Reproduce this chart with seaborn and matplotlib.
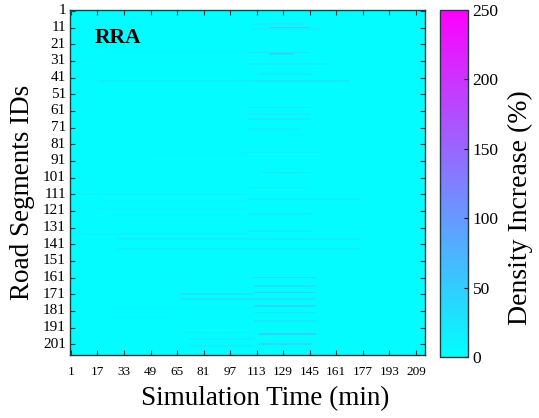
import numpy as np
import pandas as pd
import matplotlib
matplotlib.use('Agg')
import matplotlib.pyplot as plt
import seaborn as sns

# ==========================================
# Data
# ==========================================
n_segments = 207
n_minutes = 214
base_level = 3  # background density increase (%)

# streaks of higher density increase: segment row, first / last minute, level (%)
streak_row = [9, 11, 12, 26, 26, 27, 32, 33, 38, 39, 43, 43, 59, 59, 63, 65, 66, 72,
              86, 86, 98, 98, 107, 111, 114, 115, 120, 123, 133, 135, 138, 144,
              161, 161, 166, 170, 171, 170, 174, 178, 179, 182, 185, 187, 194,
              195, 198, 201, 202]
streak_first = [112, 121, 110, 20, 108, 121, 9, 108, 30, 115, 18, 108, 49, 108, 108, 61, 108, 108,
                49, 108, 31, 115, 108, 6, 108, 20, 18, 108, 108, 3, 30, 30,
                61, 112, 112, 3, 67, 112, 67, 112, 24, 112, 24, 112, 67,
                115, 73, 115, 73]
streak_last = [139, 144, 150, 107, 144, 135, 107, 157, 100, 145, 107, 169, 107, 145, 145, 107, 145, 139,
               107, 151, 107, 145, 145, 107, 175, 107, 107, 145, 145, 107, 175, 175,
               111, 148, 148, 66, 111, 148, 148, 148, 111, 148, 60, 148, 111,
               148, 111, 145, 111]
streak_level = [18, 48, 14, 12, 28, 38, 11, 17, 10, 17, 15, 20, 10, 19, 17, 10, 19, 12,
                10, 17, 11, 20, 15, 10, 15, 10, 11, 16, 15, 10, 15, 16,
                11, 36, 28, 11, 22, 45, 25, 38, 12, 25, 12, 22, 17,
                45, 15, 38, 15]

cbar_ticks = [0, 50, 100, 150, 200, 250]

# build the matrix
density = np.full((n_segments, n_minutes), float(base_level))
for r, c0, c1, v in zip(streak_row, streak_first, streak_last, streak_level):
    density[r - 1, c0 - 1:c1] = np.maximum(density[r - 1, c0 - 1:c1], v)

df = pd.DataFrame(density,
                  index=np.arange(1, n_segments + 1),
                  columns=np.arange(1, n_minutes + 1))

# ==========================================
# Plot
# ==========================================
plt.rcParams['font.family'] = ['Liberation Serif', 'DejaVu Serif']

fig = plt.figure(figsize=(5.39, 4.18), dpi=100)
ax = fig.add_axes([0.130, 0.1507, 0.6585, 0.8253])
cax = fig.add_axes([0.816, 0.146, 0.052, 0.830])

sns.heatmap(df, ax=ax, cbar_ax=cax, cmap='cool', vmin=0, vmax=250,
            xticklabels=16, yticklabels=10,
            cbar_kws={'ticks': cbar_ticks})

ax.set_xticklabels(ax.get_xticklabels(), rotation=0, fontsize=9.5)
ax.set_yticklabels(ax.get_yticklabels(), rotation=0, fontsize=11)
ax.tick_params(direction='in', top=True, right=True, length=3.5,
               color='#1f3b3b', width=0.8)
ax.tick_params(axis='x', pad=8)
ax.tick_params(axis='y', pad=3)
for s in ax.spines.values():
    s.set_visible(True)
    s.set_color('#1f3b3b')
    s.set_linewidth(1.0)

ax.set_xlabel('Simulation Time (min)', fontsize=19.5)
ax.xaxis.set_label_coords(0.549, -0.09)
ax.set_ylabel('Road Segments IDs', fontsize=19.5)
ax.yaxis.set_label_coords(-0.099, 0.47)

ax.text(0.07, 0.92, 'RRA', transform=ax.transAxes, fontsize=15.5,
        fontweight='bold', va='center', ha='left')

# colorbar styling
cax.tick_params(labelsize=12.5, direction='in', length=3, right=True, left=False)
cbar = ax.collections[0].colorbar
cbar.outline.set_visible(True)
cbar.outline.set_edgecolor('#1f3b3b')
cbar.outline.set_linewidth(1.0)
cbar.set_label('Density Increase (%)', fontsize=20)
cax.yaxis.set_label_coords(2.42, 0.43)

fig.savefig('out.png', dpi=100)
